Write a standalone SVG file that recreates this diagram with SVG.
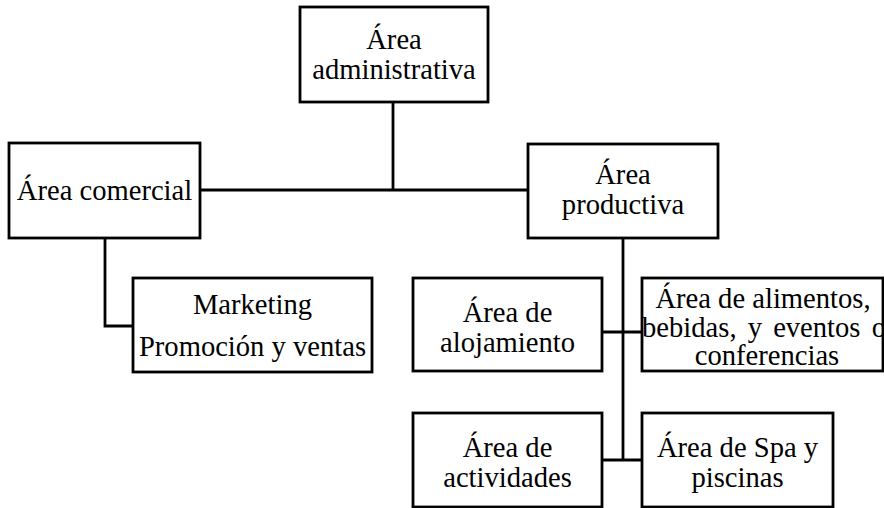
<svg xmlns="http://www.w3.org/2000/svg" width="884" height="508" viewBox="0 0 884 508">
<style>
.box{fill:#fff;stroke:#000;stroke-width:2.8}
.t{font-family:"Liberation Serif","Times New Roman",serif;font-size:28.6px;fill:#000;text-anchor:middle}
.c{fill:none;stroke:#000;stroke-width:2.8}
</style>
<rect width="884" height="508" fill="#fff"/>
<g id="connectors">
<path class="c" d="M393 102V190M200 190H528"/>
<path class="c" d="M105 238V326H133"/>
<path class="c" d="M623 238V460M602 332H642M602 460H642"/>
</g>
<g id="admin"><rect class="box" x="300" y="7" width="188" height="95"/>
<text class="t" x="394" y="49">Área</text><text class="t" x="394" y="79">administrativa</text></g>
<g id="comercial"><rect class="box" x="9" y="143" width="191" height="95"/>
<text class="t" x="104.5" y="200">Área comercial</text></g>
<g id="marketing"><rect class="box" x="133" y="278" width="239" height="94"/>
<text class="t" x="252.5" y="314">Marketing</text><text class="t" x="252.5" y="356">Promoción y ventas</text></g>
<g id="productiva"><rect class="box" x="528" y="144" width="190" height="94"/>
<text class="t" x="623" y="184">Área</text><text class="t" x="623" y="214">productiva</text></g>
<g id="alojamiento"><rect class="box" x="413" y="278" width="189" height="93"/>
<text class="t" x="507.5" y="322">Área de</text><text class="t" x="507.5" y="352">alojamiento</text></g>
<g id="alimentos"><rect class="box" x="642" y="278" width="241" height="93"/>
<text class="t" x="763" y="308">Área de alimentos,</text><text class="t" x="764" y="337" style="word-spacing:4px">bebidas, y eventos o</text><text class="t" x="767" y="365">conferencias</text></g>
<g id="actividades"><rect class="box" x="413" y="413" width="189" height="94"/>
<text class="t" x="507.5" y="457">Área de</text><text class="t" x="507.5" y="487">actividades</text></g>
<g id="spa"><rect class="box" x="642" y="413" width="191" height="94"/>
<text class="t" x="737.5" y="457">Área de Spa y</text><text class="t" x="737.5" y="487">piscinas</text></g>
</svg>
